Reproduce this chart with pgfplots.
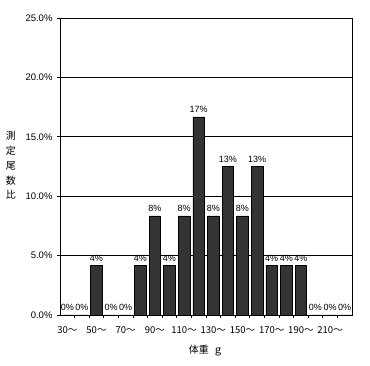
\documentclass[border=0pt]{standalone}
\usepackage{fontspec}
\setmainfont{Liberation Sans}
\newfontfamily\cjk{Noto Sans CJK JP}
\usepackage{pgfplots}
\pgfplotsset{compat=1.18}
\definecolor{barc}{HTML}{333333}
\begin{document}
\begin{tikzpicture}
\useasboundingbox (-60pt,-51pt) rectangle (310pt,315pt);
\begin{axis}[
  at={(0,0)}, anchor=south west,
  scale only axis, width=292pt, height=297pt,
  xmin=-0.5, xmax=19.5, ymin=0, ymax=25,
  xtick={0,2,...,18},
  xticklabels={30〜,50〜,70〜,90〜,110〜,130〜,150〜,170〜,190〜,210〜},
  xticklabel style={font=\cjk\fontsize{9.5}{10}\selectfont, yshift=-5pt},
  minor xtick={0.5,1.5,...,18.5},
  major x tick style={draw=none},
  minor x tick style={black, line width=0.6pt},
  minor tick length=3pt,
  major tick length=3pt,
  tick align=inside,
  xtick pos=bottom, ytick pos=left,
  ytick={0,5,...,25},
  major y tick style={black, line width=0.6pt, xshift=-3pt},
  yticklabel={\pgfmathprintnumber[fixed,fixed zerofill,precision=1]{\tick}\%},
  yticklabel style={font=\fontsize{9.5}{10}\selectfont, xshift=-4pt},
  /pgf/number format/assume math mode=true,
  ymajorgrids, grid style={black, line width=0.6pt},
  axis line style={black, line width=0.6pt},
  ylabel={\cjk\fontsize{10}{14.75}\selectfont\begin{tabular}{@{}c@{}}測\\定\\尾\\数\\比\end{tabular}},
  ylabel style={rotate=-90, at={(axis description cs:-0.168,0.5)}, anchor=center},
  xlabel={\cjk\fontsize{10}{12}\selectfont 体重\ \ ｇ},
  xlabel style={at={(axis description cs:0.5,-0.121)}, anchor=center},
  ybar, bar width=11.7pt,
  nodes near coords,
  point meta=explicit symbolic,
  every node near coord/.append style={font=\fontsize{9}{10}\selectfont, inner sep=1pt, yshift=3pt},
]
\addplot[fill=barc, draw=black, line width=0.5pt] coordinates {
(0,0) [0\%]
(1,0) [0\%]
(2,4.1667) [4\%]
(3,0) [0\%]
(4,0) [0\%]
(5,4.1667) [4\%]
(6,8.3333) [8\%]
(7,4.1667) [4\%]
(8,8.3333) [8\%]
(9,16.6667) [17\%]
(10,8.3333) [8\%]
(11,12.5) [13\%]
(12,8.3333) [8\%]
(13,12.5) [13\%]
(14,4.1667) [4\%]
(15,4.1667) [4\%]
(16,4.1667) [4\%]
(17,0) [0\%]
(18,0) [0\%]
(19,0) [0\%]
};
\end{axis}
\end{tikzpicture}
\end{document}
